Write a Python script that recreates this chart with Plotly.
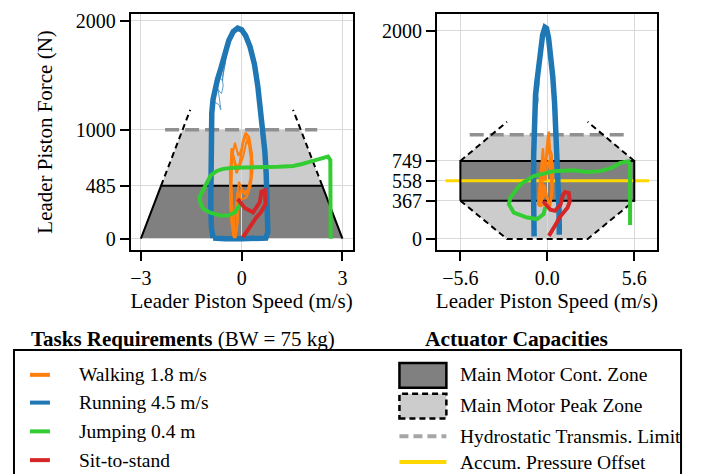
import plotly.graph_objects as go

# ---------------- data ----------------
# Left panel: leader piston speed (m/s) vs force (N)
run_L_x = [-0.85, -0.90, -0.92, -0.92, -0.91, -0.89, -0.85, -0.80, -0.72, -0.62, -0.50, -0.38, -0.25, -0.12,
           0.00, 0.12, 0.25, 0.38, 0.48, 0.56, 0.63, 0.69, 0.73, 0.76, 0.78, 0.78, 0.72, 0.40, 0.00, -0.50, -0.85]
run_L_f = [5, 100, 300, 600, 900, 1150, 1280, 1380, 1460, 1560, 1700, 1820, 1900, 1930,
           1915, 1860, 1760, 1600, 1400, 1200, 1000, 800, 600, 400, 200, 60, 5, 0, 0, 0, 5]
run_L_wisps = [
    ([-0.88, -0.80, -0.68, -0.62, -0.66, -0.72, -0.62, -0.50], [1150, 1250, 1230, 1180, 1280, 1400, 1520, 1680]),
    ([-0.90, -0.84, -0.74, -0.60, -0.55, -0.58, -0.48], [1200, 1320, 1380, 1330, 1400, 1480, 1620]),
    ([-0.87, -0.78, -0.66, -0.57, -0.52, -0.42], [1250, 1420, 1470, 1450, 1560, 1720]),
]
walk_L = [
    ([-0.22, -0.30, -0.33, -0.32, -0.30, -0.22, -0.15, -0.05, 0.03, 0.12, 0.22, 0.30, 0.31, 0.24, 0.10, -0.02, -0.10, -0.15, -0.20],
     [5, 150, 400, 650, 830, 720, 600, 700, 880, 970, 930, 780, 600, 470, 410, 450, 300, 100, 5]),
    ([-0.18, -0.27, -0.30, -0.28, -0.20, -0.10, 0.00, 0.10, 0.20, 0.27, 0.26, 0.18, 0.05, -0.08, -0.14, -0.12, -0.18],
     [10, 200, 500, 760, 880, 760, 820, 940, 900, 740, 560, 440, 430, 520, 380, 150, 10]),
    ([-0.25, -0.34, -0.35, -0.30, -0.18, -0.08, 0.05, 0.15, 0.25, 0.33, 0.28, 0.15, 0.00, -0.12, -0.20, -0.25],
     [20, 300, 600, 800, 690, 640, 760, 900, 850, 680, 500, 380, 360, 420, 250, 20]),
]
jump_L_x = [2.65, 2.65, 2.65, 2.64, 2.57, 2.40, 2.12, 1.80, 1.53, 1.10, 0.74, 0.25, -0.25, -0.55, -0.74, -0.92,
            -1.04, -1.18, -1.26, -1.22, -1.14, -0.95, -0.64, -0.40, -0.20, -0.05]
jump_L_f = [0, 300, 600, 720, 752, 740, 713, 685, 667, 660, 658, 652, 650, 640, 621, 580,
            515, 440, 380, 320, 273, 240, 212, 212, 242, 318]
sit_L_x = [-0.12, 0.09, 0.34, 0.54, 0.59, 0.69, 0.71, 0.57, 0.44, 0.24, 0.04]
sit_L_f = [364, 282, 242, 333, 432, 445, 318, 242, 197, 106, 15]

# Right panel
run_R_x = [-0.85, -0.88, -0.89, -0.88, -0.86, -0.82, -0.76, -0.68, -0.58, -0.45, -0.30, -0.15, -0.05,
           0.08, 0.22, 0.35, 0.47, 0.56, 0.63, 0.70, 0.75, 0.77, 0.77]
run_R_f = [25, 200, 500, 800, 1050, 1250, 1380, 1500, 1650, 1820, 1960, 2030, 2020,
           1930, 1780, 1560, 1300, 1050, 800, 550, 300, 100, 40]
run_R_wisps = [
    ([-0.88, -0.80, -0.66, -0.58, -0.64, -0.60, -0.48], [1150, 1280, 1260, 1330, 1420, 1560, 1760]),
    ([-0.86, -0.76, -0.62, -0.52, -0.56, -0.44], [1250, 1420, 1400, 1480, 1580, 1800]),
]
walk_R = [
    ([-0.60, -0.50, -0.38, -0.28, -0.20, -0.08, 0.02, 0.09, 0.16, 0.28, 0.35, 0.30, 0.15, 0.00, -0.20, -0.40, -0.60],
     [320, 500, 700, 870, 650, 780, 950, 1030, 860, 810, 620, 420, 330, 390, 520, 340, 320]),
    ([-0.55, -0.45, -0.30, -0.22, -0.10, 0.05, 0.12, 0.22, 0.30, 0.25, 0.08, -0.10, -0.30, -0.55],
     [350, 560, 760, 600, 700, 900, 820, 740, 560, 380, 340, 450, 380, 350]),
    ([-0.50, -0.35, -0.25, -0.12, 0.00, 0.10, 0.20, 0.28, 0.20, 0.00, -0.20, -0.50],
     [310, 480, 620, 560, 680, 760, 650, 480, 320, 300, 330, 310]),
]
jump_R_x = [5.33, 5.33, 5.33, 5.23, 4.69, 4.15, 3.40, 2.55, 1.69, 0.41, -0.88, -1.73, -2.38, -2.48,
            -2.16, -1.30, -0.66, -0.24, -0.13]
jump_R_f = [133, 400, 714, 746, 730, 683, 651, 642, 660, 651, 603, 524, 397, 333,
            254, 206, 191, 238, 308]
sit_R_x = [-0.26, 0.00, 0.20, 0.50, 0.85, 1.00, 1.15, 1.38, 1.45, 1.30, 1.05, 0.80, 0.55, 0.30, 0.10]
sit_R_f = [360, 310, 280, 270, 330, 420, 450, 440, 360, 300, 260, 210, 140, 70, 30]

# Actuator capacity envelopes
cont_L_x = [-3.0, -2.4, 2.4, 3.0]
cont_L_f = [0, 485, 485, 0]
peak_L_x = [-3.0, -1.76, 1.76, 3.0]
peak_L_f = [0, 1000, 1000, 0]
peak_edge_L_x = [-2.4, -1.53]
peak_edge_L_f = [485, 1182]
hydro_L_x = [-2.28, 2.25]
hydro_f = [1000, 1000]

cont_R_x = [-5.6, -5.6, 5.6, 5.6]
cont_R_f = [367, 749, 749, 367]
peak_R_x = [-2.6, -5.6, -5.6, -3.6, 3.6, 5.6, 5.6, 2.6]
peak_R_f = [0, 367, 749, 1000, 1000, 749, 367, 0]
peak_low_R_x = [-5.6, -2.6, 2.6, 5.6]
peak_low_R_f = [367, 0, 0, 367]
peak_up_R_x = [-5.6, -2.6]
peak_up_R_f = [749, 1124]
hydro_R_x = [-5.0, 5.0]
accum_R_x = [-6.55, 6.55]
accum_R_f = [558, 558]

# ticks
xt_L, xt_L_txt = [-3, 0, 3], ["\u22123", "0", "3"]
yt_L = [0, 485, 1000, 2000]
xt_R, xt_R_txt = [-5.6, 0.0, 5.6], ["\u22125.6", "0.0", "5.6"]
yt_R = [0, 367, 558, 749, 2000]

# ---------------- style ----------------
FONT = "Liberation Serif"
C_WALK, C_RUN, C_JUMP, C_SIT = "#ff7f0e", "#1f77b4", "#33cc33", "#d62728"
C_DARK, C_LIGHT, C_HYDRO, C_ACC = "#808080", "#cccccc", "#909090", "#ffd700"
W, H = 710, 474

fig = go.Figure()


def poly_path(xs, ys):
    return "M " + " L ".join(f"{x},{y}" for x, y in zip(xs, ys)) + " Z"


def add_line(x, y, color, width, ax, dash=None, opacity=1.0):
    fig.add_trace(go.Scatter(x=x, y=y, mode="lines", xaxis=ax[0], yaxis=ax[1],
                             line=dict(color=color, width=width, dash=dash),
                             opacity=opacity, showlegend=False, hoverinfo="skip"))


def mirror(xs):
    return [-v for v in xs]


AX_L = ("x", "y")
AX_R = ("x2", "y2")

# filled zones (under the grid)
fig.add_shape(type="path", path=poly_path(peak_L_x, peak_L_f), xref="x", yref="y",
              fillcolor=C_LIGHT, line=dict(width=0), layer="below")
fig.add_shape(type="path", path=poly_path(cont_L_x, cont_L_f), xref="x", yref="y",
              fillcolor=C_DARK, line=dict(width=0), layer="below")
fig.add_shape(type="path", path=poly_path(peak_R_x, peak_R_f), xref="x2", yref="y2",
              fillcolor=C_LIGHT, line=dict(width=0), layer="below")
fig.add_shape(type="path", path=poly_path(cont_R_x, cont_R_f), xref="x2", yref="y2",
              fillcolor=C_DARK, line=dict(width=0), layer="below")

# left envelope outlines
add_line(hydro_L_x, hydro_f, C_HYDRO, 3.5, AX_L, dash="14px,6px")
add_line(cont_L_x, cont_L_f, "black", 2, AX_L)
add_line(peak_edge_L_x, peak_edge_L_f, "black", 2, AX_L, dash="6px,4px")
add_line(mirror(peak_edge_L_x), peak_edge_L_f, "black", 2, AX_L, dash="6px,4px")

# right envelope outlines
add_line(accum_R_x, accum_R_f, C_ACC, 3, AX_R)
add_line(hydro_R_x, hydro_f, C_HYDRO, 3.5, AX_R, dash="14px,6px")
add_line(cont_R_x + [cont_R_x[0]], cont_R_f + [cont_R_f[0]], "black", 2, AX_R)
add_line(peak_low_R_x, peak_low_R_f, "black", 2, AX_R, dash="6px,4px")
add_line(peak_up_R_x, peak_up_R_f, "black", 2, AX_R, dash="6px,4px")
add_line(mirror(peak_up_R_x), peak_up_R_f, "black", 2, AX_R, dash="6px,4px")

# task trajectories
for ax, rx, rf, wisps, walks, jx, jf, sx, sf in [
    (AX_L, run_L_x, run_L_f, run_L_wisps, walk_L, jump_L_x, jump_L_f, sit_L_x, sit_L_f),
    (AX_R, run_R_x, run_R_f, run_R_wisps, walk_R, jump_R_x, jump_R_f, sit_R_x, sit_R_f),
]:
    add_line(rx, rf, C_RUN, 5.5, ax)
    for wx, wf in wisps:
        add_line(wx, wf, C_RUN, 1, ax, opacity=0.7)
    for i, (wx, wf) in enumerate(walks):
        add_line(wx, wf, C_WALK, 2.5 if i == 0 else 2, ax)
    add_line(jx, jf, C_JUMP, 4, ax)
    add_line(sx, sf, C_SIT, 4, ax)

# ---------------- axes ----------------
def yd(top, bottom):
    return [1 - bottom / H, 1 - top / H]


axis_common = dict(showline=True, linecolor="black", linewidth=2, mirror=True,
                   ticks="outside", ticklen=9, tickwidth=1.5, tickcolor="black",
                   showgrid=True, gridcolor="#d9d9d9", gridwidth=1, zeroline=False,
                   tickfont=dict(family=FONT, size=20, color="black"))
title_font = dict(family=FONT, size=21, color="black")

fig.update_layout(
    xaxis=dict(domain=[130 / W, 352 / W], range=[-3.3, 3.3], tickvals=xt_L, ticktext=xt_L_txt,
               anchor="y", title=dict(text="Leader Piston Speed (m/s)", standoff=4, font=title_font),
               **axis_common),
    yaxis=dict(domain=yd(10, 248), range=[-103, 2061], tickvals=yt_L, anchor="x",
               title=dict(text="Leader Piston Force (N)", standoff=17, font=title_font), **axis_common),
    xaxis2=dict(domain=[436.7 / W, 656.7 / W], range=[-7.1, 7.05], tickvals=xt_R, ticktext=xt_R_txt,
                anchor="y2", title=dict(text="Leader Piston Speed (m/s)", standoff=4, font=title_font),
                **axis_common),
    yaxis2=dict(domain=yd(10, 248), range=[-105, 2160], tickvals=yt_R, anchor="x2", **axis_common),
)

# ---------------- legend panel ----------------
def px(x):
    return x / W


def py(y):
    return 1 - y / H


ann = []
ann.append(dict(text="<b>Tasks Requirements</b> (BW = 75 kg)", x=px(28), y=py(338), xanchor="left",
                yanchor="middle", size=21))
ann.append(dict(text="<b>Actuator Capacities</b>", x=px(423), y=py(338), xanchor="left", yanchor="middle",
                size=21.5))

fig.add_shape(type="rect", xref="paper", yref="paper", x0=px(13), x1=px(681), y0=py(490), y1=py(349),
              line=dict(color="black", width=2), fillcolor="rgba(0,0,0,0)")

task_items = [("Walking 1.8 m/s", C_WALK), ("Running 4.5 m/s", C_RUN),
              ("Jumping 0.4 m", C_JUMP), ("Sit-to-stand", C_SIT)]
rows = [374, 402, 431, 460]
for (label, col), yy in zip(task_items, rows):
    fig.add_shape(type="line", xref="paper", yref="paper", x0=px(29), x1=px(49), y0=py(yy), y1=py(yy),
                  line=dict(color=col, width=4))
    ann.append(dict(text=label, x=px(76), y=py(yy), xanchor="left", yanchor="middle", size=19.5))

# capacity samples
fig.add_shape(type="rect", xref="paper", yref="paper", x0=px(399), x1=px(446), y0=py(387), y1=py(362),
              fillcolor=C_DARK, line=dict(color="black", width=2.5))
fig.add_shape(type="rect", xref="paper", yref="paper", x0=px(399), x1=px(446), y0=py(418), y1=py(393),
              fillcolor=C_LIGHT, line=dict(color="black", width=2.5, dash="6px,4px"))
fig.add_shape(type="line", xref="paper", yref="paper", x0=px(399), x1=px(446), y0=py(436), y1=py(436),
              line=dict(color="#a6a6a6", width=4, dash="9px,5px"))
fig.add_shape(type="line", xref="paper", yref="paper", x0=px(399), x1=px(446), y0=py(462), y1=py(462),
              line=dict(color=C_ACC, width=4))
cap_items = [("Main Motor Cont. Zone", 374), ("Main Motor Peak Zone", 405),
             ("Hydrostatic Transmis. Limit", 436), ("Accum. Pressure Offset", 462)]
for label, yy in cap_items:
    ann.append(dict(text=label, x=px(458), y=py(yy), xanchor="left", yanchor="middle", size=19.5))

for a in ann:
    size = a.pop("size")
    a.update(xref="paper", yref="paper", showarrow=False,
             font=dict(family=FONT, size=size, color="black"))
    fig.add_annotation(**a)

fig.update_layout(width=W, height=H, margin=dict(l=0, r=0, t=0, b=0),
                  paper_bgcolor="white", plot_bgcolor="white", showlegend=False,
                  font=dict(family=FONT, color="black"))

fig.write_html("out.html")
